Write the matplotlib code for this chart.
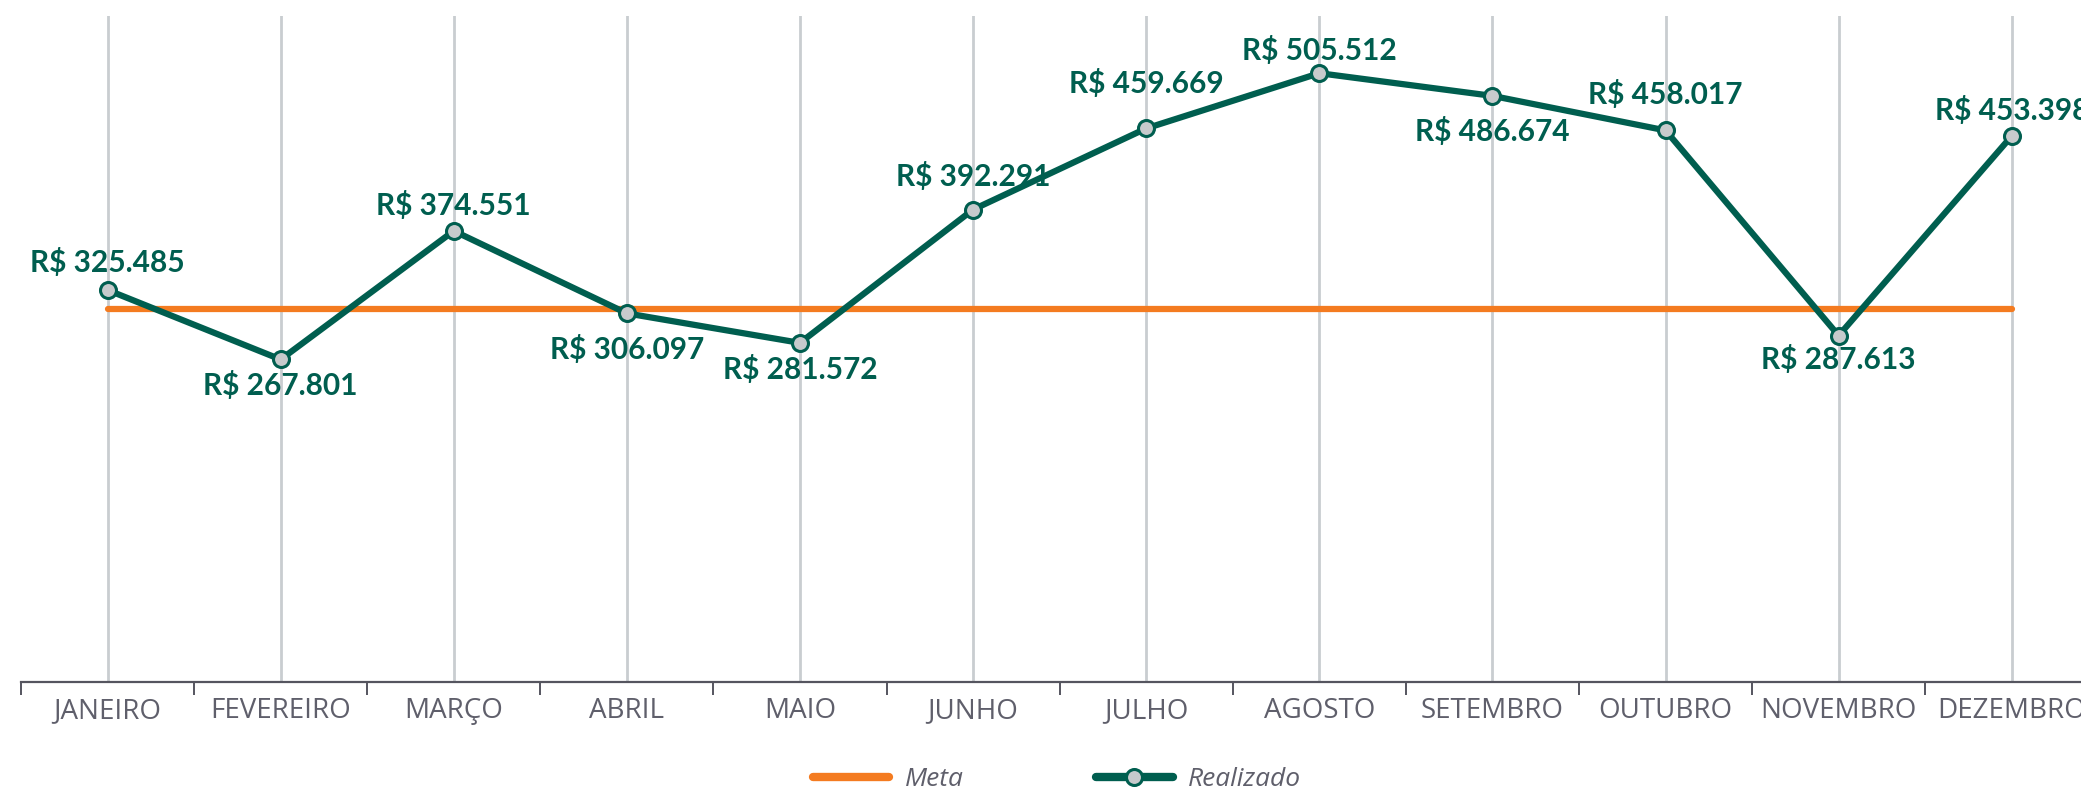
"""Meta x Realizado mensal - gráfico de linhas."""

import matplotlib
matplotlib.use("Agg")
import matplotlib.pyplot as plt
from matplotlib.lines import Line2D

# dados
meses = ["JANEIRO", "FEVEREIRO", "MARÇO", "ABRIL", "MAIO", "JUNHO",
         "JULHO", "AGOSTO", "SETEMBRO", "OUTUBRO", "NOVEMBRO", "DEZEMBRO"]
realizado = [325485, 267801, 374551, 306097, 281572, 392291,
             459669, 505512, 486674, 458017, 287613, 453398]
meta = [310000] * 12
# deslocamento vertical do rótulo (pt): positivo = acima, negativo = abaixo
desloc_rotulo = [20, -19, 18, -26, -19, 24, 32, 16, -26, 26, -17, 18]

VERDE = "#005E4F"
LARANJA = "#F47B20"
CINZA_MARCADOR = "#C7CACC"
CINZA_GRADE = "#C9CDD0"
CINZA_TEXTO = "#5F5F6B"
CINZA_EIXO = "#55555F"

plt.rcParams["font.family"] = ["Open Sans", "DejaVu Sans"]
FONTE_ROTULO = ["Lato", "DejaVu Sans"]

W, H = 2081, 789
fig = plt.figure(figsize=(W / 100, H / 100), dpi=100)
ax = fig.add_axes([21 / W, 107 / H, 1 - 21 / W, (H - 16 - 107) / H])

x = list(range(len(meses)))
ax.plot(x, meta, color=LARANJA, lw=4.5, solid_capstyle="round", zorder=2, label="Meta")
ax.plot(x, realizado, color=VERDE, lw=4.5, marker="o", markersize=11.5,
        markerfacecolor=CINZA_MARCADOR, markeredgecolor=VERDE, markeredgewidth=2.2,
        zorder=3, label="Realizado")

for xi, v, d in zip(x, realizado, desloc_rotulo):
    txt = "R$ " + f"{v:,}".replace(",", ".")
    ax.annotate(txt, (xi, v), xytext=(0, d), textcoords="offset points",
                ha="center", va="center", fontsize=21.5, fontweight="bold",
                family=FONTE_ROTULO, color=VERDE, annotation_clip=False, zorder=4)

ax.set_xlim(-0.5, 11.4)
ax.set_ylim(0, 553000)
ax.set_yticks([])
for s in ["top", "left", "right"]:
    ax.spines[s].set_visible(False)
ax.spines["bottom"].set_color(CINZA_EIXO)
ax.spines["bottom"].set_linewidth(1.6)

ax.set_xticks(x)
ax.set_xticklabels(meses, fontsize=20, color=CINZA_TEXTO)
ax.tick_params(axis="x", which="major", length=0, pad=11)
ax.set_xticks([i - 0.5 for i in range(12)], minor=True)
ax.tick_params(axis="x", which="minor", length=9, width=1.4, color=CINZA_EIXO, direction="out")
ax.grid(axis="x", which="major", color=CINZA_GRADE, lw=2, zorder=0)
ax.set_axisbelow(True)

handles = [
    Line2D([], [], color=LARANJA, lw=6, solid_capstyle="round"),
    Line2D([], [], color=VERDE, lw=6, solid_capstyle="round", marker="o", markersize=11.5,
           markerfacecolor=CINZA_MARCADOR, markeredgecolor=VERDE, markeredgewidth=2.2),
]
leg = fig.legend(handles, ["Meta", "Realizado"], loc="center", bbox_to_anchor=(0.508, 0.012),
                 ncol=2, frameon=False, handlelength=2.9, handletextpad=0.6,
                 columnspacing=5.0, prop={"size": 19, "style": "italic"})
for t in leg.get_texts():
    t.set_color(CINZA_TEXTO)

plt.savefig("out.png", dpi=100)
plt.close()
